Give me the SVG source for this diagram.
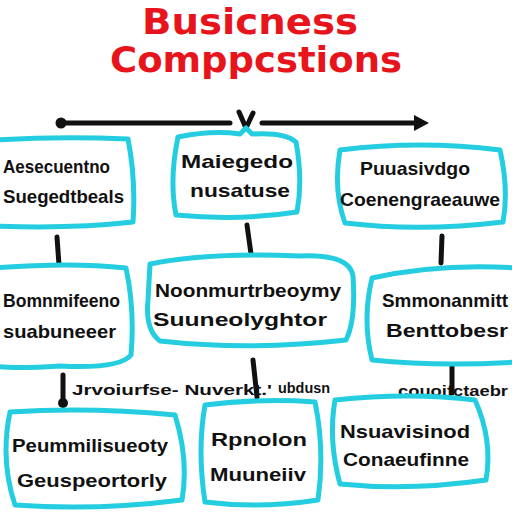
<svg xmlns="http://www.w3.org/2000/svg" width="512" height="512" viewBox="0 0 512 512">
<style>
.box{fill:#fff;stroke:#25cde0;stroke-width:5;stroke-linejoin:round}
.t{font-family:"Liberation Sans","DejaVu Sans",sans-serif;font-weight:bold;font-size:19px;fill:#111}
.s{font-family:"Liberation Sans","DejaVu Sans",sans-serif;font-weight:bold;font-size:15px;fill:#111}
.title{font-family:"DejaVu Sans","Liberation Sans",sans-serif;font-weight:bold;font-size:36px;fill:#e8141c}
.c{fill:none;stroke:#111;stroke-width:5;stroke-linecap:round;stroke-linejoin:round}
</style>
<rect width="512" height="512" fill="#fff"/>
<g id="title">
<text class="title" x="250" y="34" text-anchor="middle" textLength="216" lengthAdjust="spacingAndGlyphs">Busicness</text>
<text class="title" x="256" y="72" text-anchor="middle" textLength="292" lengthAdjust="spacingAndGlyphs">Comppcstions</text>
</g>
<g id="connectors">
<circle cx="61" cy="123" r="5.5" fill="#111"/>
<path class="c" d="M62,123 L230,123 M262,123 L418,123"/>
<polygon points="414,115 429,123 414,131" fill="#111"/>
<path class="c" d="M239,112 L246,128 L253,113"/>
<path class="c" d="M57,237 L59,265 M247,225 L251,254 M442,236 L441,263"/>
<path class="c" d="M63,375 L63,405 M253,360 L257,397 M452,365 L452,393"/>
<circle cx="63" cy="403" r="5" fill="#111"/>
<text class="s" x="72" y="395" textLength="200" lengthAdjust="spacingAndGlyphs">Jrvoiurfse- Nuverkt.'</text>
<text class="s" x="278" y="393" textLength="52" lengthAdjust="spacingAndGlyphs">ubdusn</text>
<text class="s" x="398" y="396" textLength="110" lengthAdjust="spacingAndGlyphs">couoifctaebr</text>
</g>
<g id="n1">
<path class="box" d="M-5,140 Q60,136 128,139 Q136,180 133,222 Q70,229 -5,226 Z"/>
<text class="t" x="3" y="173" textLength="107" lengthAdjust="spacingAndGlyphs">Aesecuentno</text>
<text class="t" x="3" y="203" textLength="121" lengthAdjust="spacingAndGlyphs">Suegedtbeals</text>
</g>
<g id="n2">
<path class="box" d="M178,137 Q212,130 240,134 L246,128 L252,134 Q285,132 296,142 Q303,180 297,212 Q240,221 176,215 Q169,180 178,137 Z"/>
<text class="t" x="237" y="168" text-anchor="middle" textLength="112" lengthAdjust="spacingAndGlyphs">Maiegedo</text>
<text class="t" x="240" y="197" text-anchor="middle" textLength="100" lengthAdjust="spacingAndGlyphs">nusatuse</text>
</g>
<g id="n3">
<path class="box" d="M340,150 Q420,140 500,150 Q509,190 503,222 Q420,232 345,223 Q333,190 340,150 Z"/>
<text class="t" x="415" y="175" text-anchor="middle" textLength="110" lengthAdjust="spacingAndGlyphs">Puuasivdgo</text>
<text class="t" x="420" y="206" text-anchor="middle" textLength="160" lengthAdjust="spacingAndGlyphs">Coenengraeauwe</text>
</g>
<g id="n4">
<path class="box" d="M-5,268 Q70,262 126,268 Q135,310 131,355 Q120,369 60,366 Q10,369 -5,366 Z"/>
<text class="t" x="3" y="307" textLength="117" lengthAdjust="spacingAndGlyphs">Bomnmifeeno</text>
<text class="t" x="3" y="338" textLength="113" lengthAdjust="spacingAndGlyphs">suabuneeer</text>
</g>
<g id="n5">
<path class="box" d="M150,264 Q210,252 300,256 Q350,254 353,276 Q356,320 346,340 Q250,351 160,341 Q145,330 148,300 Z"/>
<text class="t" x="248" y="297" text-anchor="middle" textLength="186" lengthAdjust="spacingAndGlyphs">Noonmurtrbeoymy</text>
<text class="t" x="240" y="326" text-anchor="middle" textLength="174" lengthAdjust="spacingAndGlyphs">Suuneolyghtor</text>
</g>
<g id="n6">
<path class="box" d="M372,278 Q440,263 517,268 L517,362 Q440,367 372,360 Q362,320 372,278 Z"/>
<text class="t" x="382" y="307" textLength="126" lengthAdjust="spacingAndGlyphs">Smmonanmitt</text>
<text class="t" x="386" y="337" textLength="122" lengthAdjust="spacingAndGlyphs">Benttobesr</text>
</g>
<g id="n7">
<path class="box" d="M10,412 Q90,407 175,415 Q189,460 182,500 Q95,511 15,505 Q0,460 10,412 Z"/>
<text class="t" x="90" y="452" text-anchor="middle" textLength="156" lengthAdjust="spacingAndGlyphs">Peummilisueoty</text>
<text class="t" x="92" y="487" text-anchor="middle" textLength="150" lengthAdjust="spacingAndGlyphs">Geuspeortorly</text>
</g>
<g id="n8">
<path class="box" d="M205,405 Q260,398 315,402 Q325,450 318,500 Q260,509 205,502 Q197,450 205,405 Z"/>
<text class="t" x="259" y="446" text-anchor="middle" textLength="96" lengthAdjust="spacingAndGlyphs">Rpnolon</text>
<text class="t" x="258" y="481" text-anchor="middle" textLength="96" lengthAdjust="spacingAndGlyphs">Muuneiiv</text>
</g>
<g id="n9">
<path class="box" d="M335,400 Q410,392 475,400 Q493,440 486,480 Q410,491 340,484 Q328,440 335,400 Z"/>
<text class="t" x="405" y="438" text-anchor="middle" textLength="130" lengthAdjust="spacingAndGlyphs">Nsuavisinod</text>
<text class="t" x="406" y="466" text-anchor="middle" textLength="126" lengthAdjust="spacingAndGlyphs">Conaeufinne</text>
</g>
</svg>
